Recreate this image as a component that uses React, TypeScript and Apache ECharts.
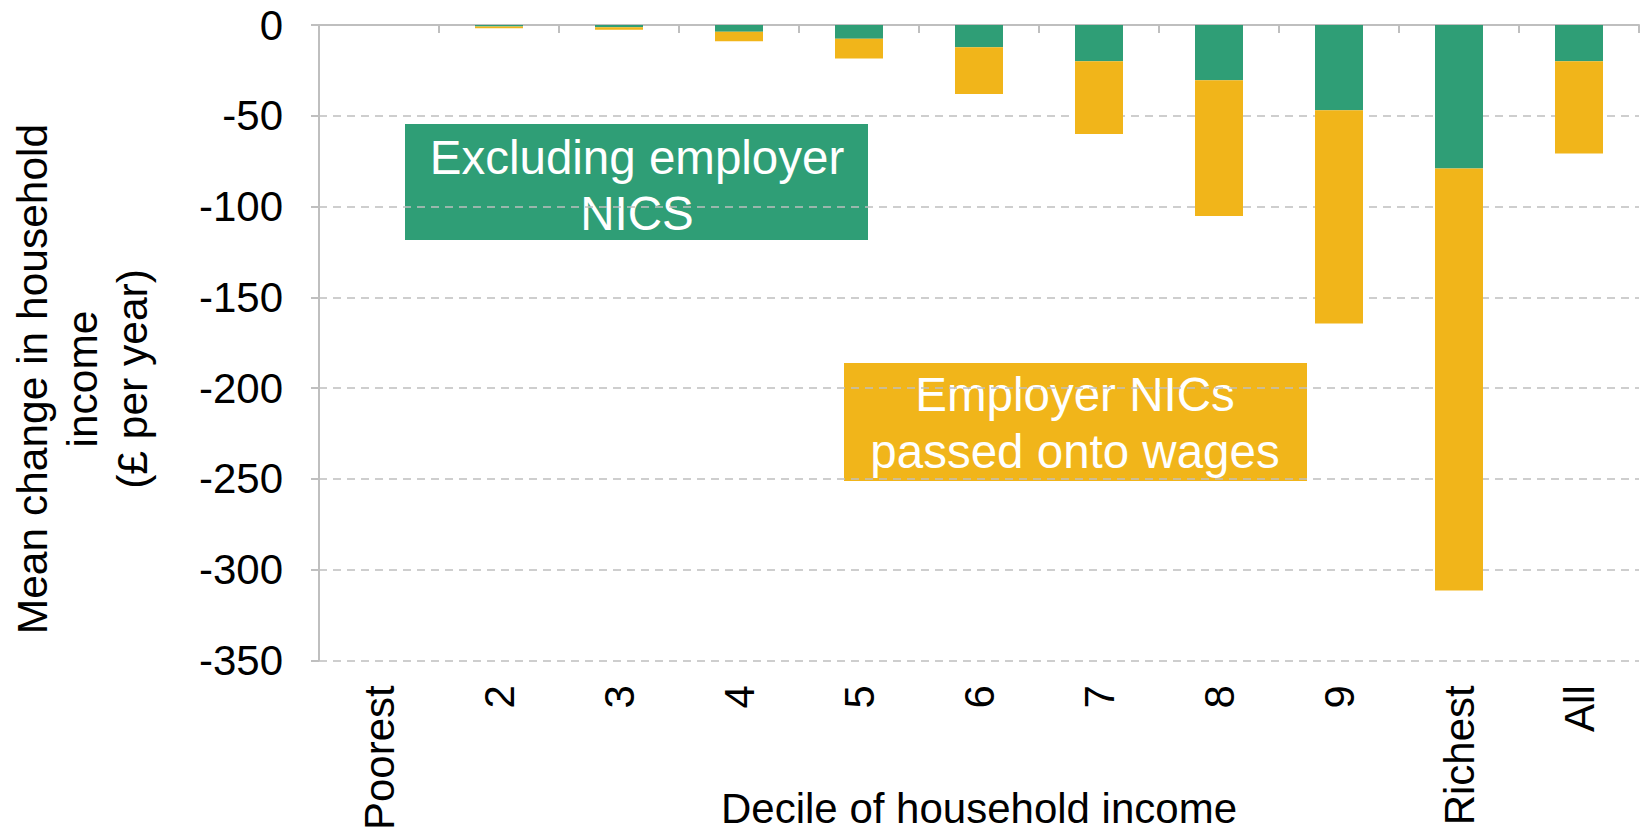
import React, { useEffect, useRef } from "react";
import * as echarts from "echarts";

const categories = ["Poorest", "2", "3", "4", "5", "6", "7", "8", "9", "Richest", "All"];
const excludingEmployerNICs = [0, -0.8, -1.2, -3.7, -7.6, -12.3, -20, -30.5, -47, -79, -20];
const employerNICsPassedOn = [0, -1.0, -1.4, -5.3, -10.9, -25.7, -40, -74.8, -117.5, -232.5, -50.8];
const yTicks = { min: -350, max: 0, interval: 50 };

const GREEN = "#2F9E76";
const YELLOW = "#F1B51A";
const GRAY = "#BFBFBF";
const FONT = "'Liberation Sans', Arial, sans-serif";

export default function App() {
  const ref = useRef<HTMLDivElement>(null);
  useEffect(() => {
    if (!ref.current) return;
    const chart = echarts.init(ref.current, undefined, { renderer: "svg" });
    chart.setOption({
      animation: false,
      grid: { left: 319, right: 3, top: 25, bottom: 172 },
      xAxis: [
        {
          type: "category",
          data: categories,
          position: "top",
          axisLine: { show: true, onZero: false, lineStyle: { color: GRAY, width: 2 } },
          axisTick: { show: true, inside: true, length: 8, lineStyle: { color: GRAY, width: 2 } },
          axisLabel: { show: false },
          splitLine: { show: false },
        },
        {
          type: "category",
          data: categories,
          position: "bottom",
          axisLine: { show: false, onZero: false },
          axisTick: { show: false },
          axisLabel: {
            show: true,
            rotate: 90,
            margin: 25,
            fontSize: 42,
            fontFamily: FONT,
            color: "#000",
          },
          splitLine: { show: false },
        },
      ],
      yAxis: {
        type: "value",
        min: yTicks.min,
        max: yTicks.max,
        interval: yTicks.interval,
        axisLine: { show: true, lineStyle: { color: GRAY, width: 2 } },
        axisTick: { show: true, length: 8, lineStyle: { color: GRAY, width: 2 } },
        axisLabel: { margin: 36, fontSize: 42, fontFamily: FONT, color: "#000" },
        splitLine: { show: true, lineStyle: { color: GRAY, width: 1.5, type: [8, 6] } },
      },
      series: [
        {
          name: "Excluding employer NICS",
          type: "bar",
          stack: "total",
          xAxisIndex: 0,
          barWidth: 48,
          data: excludingEmployerNICs,
          itemStyle: { color: GREEN },
        },
        {
          name: "Employer NICs passed onto wages",
          type: "bar",
          stack: "total",
          xAxisIndex: 0,
          barWidth: 48,
          data: employerNICsPassedOn,
          itemStyle: { color: YELLOW },
        },
      ],
      graphic: [
        {
          type: "text",
          x: 82,
          y: 379,
          rotation: Math.PI / 2,
          style: {
            text: "Mean change in household\nincome\n(£ per year)",
            fontSize: 42.5,
            fontFamily: FONT,
            fill: "#000",
            align: "center",
            verticalAlign: "middle",
            lineHeight: 50,
          },
        },
        {
          type: "text",
          x: 979,
          y: 808,
          style: {
            text: "Decile of household income",
            fontSize: 42,
            fontFamily: FONT,
            fill: "#000",
            align: "center",
            verticalAlign: "middle",
          },
        },
        {
          type: "rect",
          shape: { x: 405, y: 124, width: 463, height: 116 },
          style: { fill: GREEN },
        },
        {
          type: "text",
          x: 637,
          y: 185,
          style: {
            text: "Excluding employer\nNICS",
            fontSize: 47.5,
            fontFamily: FONT,
            fill: "#fff",
            align: "center",
            verticalAlign: "middle",
            lineHeight: 56,
          },
        },
        {
          type: "rect",
          shape: { x: 844, y: 363, width: 463, height: 118 },
          style: { fill: YELLOW },
        },
        {
          type: "text",
          x: 1075,
          y: 423,
          style: {
            text: "Employer NICs\npassed onto wages",
            fontSize: 47.5,
            fontFamily: FONT,
            fill: "#fff",
            align: "center",
            verticalAlign: "middle",
            lineHeight: 57,
          },
        },
      ],
    });
    return () => chart.dispose();
  }, []);
  return (
    <div
      ref={ref}
      style={{ position: "absolute", left: 0, top: 0, width: 1642, height: 833, background: "#fff" }}
    />
  );
}
